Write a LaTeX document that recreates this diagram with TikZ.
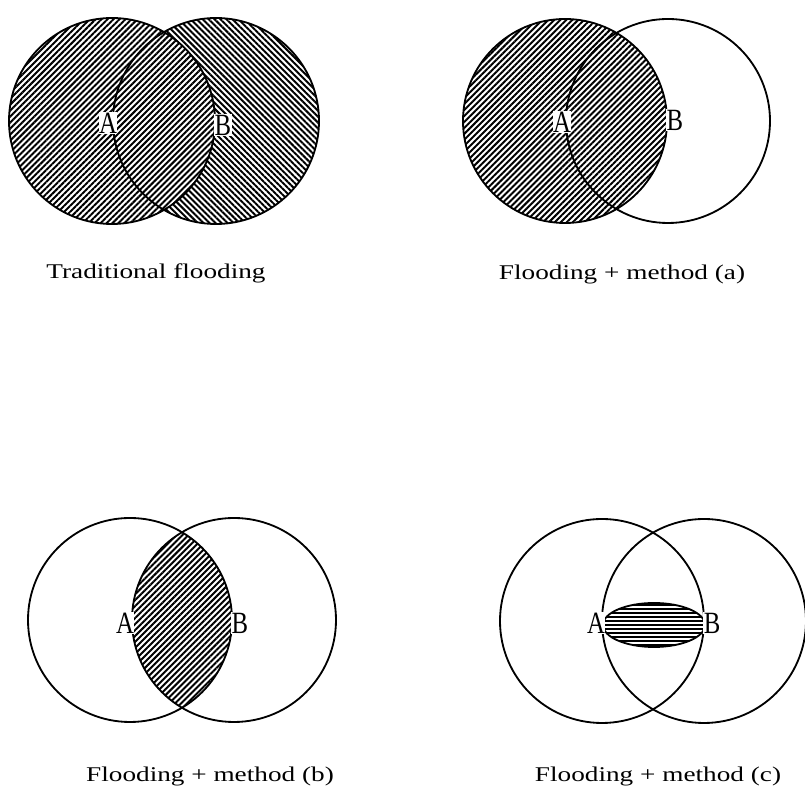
\documentclass[tikz,border=0pt]{standalone}
\usepackage{fontspec}
\setmainfont{Liberation Serif}
\usetikzlibrary{patterns.meta, positioning}
\tikzset{
  ring/.style={draw=black, line width=1.3pt},
  hatchup/.style={pattern={Lines[angle=45, distance=3pt, line width=1.4pt]}},
  hatchdown/.style={pattern={Lines[angle=-45, distance=3pt, line width=1.4pt]}},
  site/.style={font=\fontsize{22}{24}\selectfont, fill=white, inner sep=0.3pt, xscale=0.8, transform shape},
  caption/.style={anchor=base, font=\fontsize{14.9}{16}\selectfont, inner sep=0pt, xscale=1.3, transform shape}
}

\begin{document}
\begin{tikzpicture}[x=0.025cm, y=0.025cm]
    \useasboundingbox (0, 0) rectangle (805, 795);

    % --- traditional flooding ------------------------------------------------
    \coordinate (tlA) at (112, 674);
    \coordinate (tlB) at (216, 674);
    \fill[hatchdown] (tlB) circle[radius=103];
    \fill[white] (tlA) circle[radius=103];
    \fill[hatchup] (tlA) circle[radius=103];
    \draw[ring] (tlA) circle[radius=103];
    \draw[ring] (tlB) circle[radius=103];
    \node[site] (tlLabA) at (108, 672) {A};
    \node[site] (tlLabB) at (223, 670) {B};
    \node[caption] (tlCap) at (156, 516) {Traditional flooding};

    % --- method (a) ----------------------------------------------------------
    \coordinate (trA) at (565, 674);
    \coordinate (trB) at (668, 674);
    \fill[hatchup] (trA) circle[radius=102];
    \draw[ring] (trA) circle[radius=102];
    \draw[ring] (trB) circle[radius=102];
    \node[site] (trLabA) at (562, 673) {A};
    \node[site] (trLabB) at (675, 675) {B};
    \node[caption] (trCap) at (622, 515) {Flooding + method (a)};

    % --- method (b): only the lens -------------------------------------------
    \coordinate (blA) at (130, 175);
    \coordinate (blB) at (234, 175);
    \begin{scope}
      \clip (blA) circle[radius=102];
      \fill[hatchup] (blB) circle[radius=102];
    \end{scope}
    \draw[ring] (blA) circle[radius=102];
    \draw[ring] (blB) circle[radius=102];
    \node[site] (blLabA) at (125, 172) {A};
    \node[site] (blLabB) at (240, 172) {B};
    \node[caption] (blCap) at (210, 13) {Flooding + method (b)};

    % --- method (c): the thin band between A and B ---------------------------
    \coordinate (brA) at (602, 174);
    \coordinate (brB) at (704, 174);
    \coordinate (brMid) at (654, 170);
    \draw[ring] (brA) circle[radius=102];
    \draw[ring] (brB) circle[radius=102];
    \fill[white] (brMid) ellipse[x radius=51, y radius=22];
    \begin{scope}
      \clip (brMid) ellipse[x radius=51, y radius=22];
      \foreach \dy in {-20, -16, ..., 20}
        \draw[line width=1.6pt] ([yshift=\dy*0.025cm]brMid) ++(-52, 0) -- ++(104, 0);
    \end{scope}
    \draw[ring] (brMid) ellipse[x radius=51, y radius=22];
    \node[site] (brLabA) at (596, 172) {A};
    \node[site] (brLabB) at (712, 172) {B};
    \node[caption] (brCap) at (658, 13) {Flooding + method (c)};
  \end{tikzpicture}
\end{document}
